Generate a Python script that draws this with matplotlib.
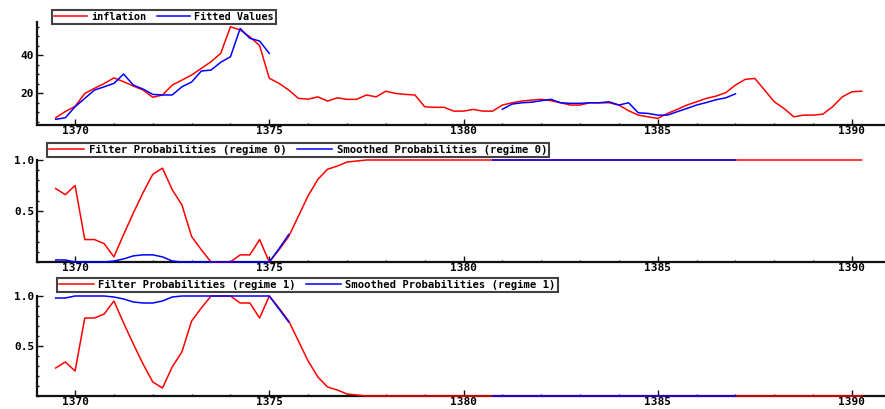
import numpy as np
import matplotlib
matplotlib.use('Agg')
import matplotlib.pyplot as plt
from matplotlib.ticker import MultipleLocator, FixedLocator

nan = np.nan

# quarterly observations, first one at 1369.5
start_year = 1369.5
quarter = 0.25

inflation = [7.0, 10.3, 13.0, 19.8, 22.5, 25.0, 28.0, 26.0, 23.7, 21.6,
             17.8, 19.0, 24.2, 26.8, 29.5, 33.0, 36.5, 40.9, 54.9, 53.2,
             49.6, 45.0, 27.8, 25.1, 21.6, 17.2, 16.8, 18.0, 15.8, 17.5,
             16.7, 16.7, 19.0, 18.0, 21.0, 19.8, 19.3, 19.0, 12.8, 12.5,
             12.5, 10.5, 10.5, 11.4, 10.5, 10.5, 13.7, 14.9, 15.8, 16.3,
             16.7, 16.0, 14.9, 13.7, 13.7, 14.9, 14.9, 14.9, 13.7, 10.7,
             8.4, 7.5, 6.7, 9.3, 11.4, 13.7, 15.4, 17.2, 18.4, 20.2,
             24.2, 27.2, 27.7, 21.6, 15.4, 11.9, 7.5, 8.4, 8.4, 8.9,
             12.8, 18.0, 20.7, 21.0]

fitted = [6.2, 7.0, 12.8, 17.2, 21.6, 23.3, 25.1, 30.0, 24.2, 22.1,
          19.3, 19.0, 19.0, 23.3, 25.8, 31.6, 32.1, 36.2, 39.1, 54.0,
          48.8, 47.4, 40.9, nan, nan, nan, nan, nan, nan, nan,
          nan, nan, nan, nan, nan, nan, nan, nan, nan, nan,
          nan, nan, nan, nan, nan, nan, 11.5, 14.2, 14.9, 15.2,
          16.0, 16.7, 14.9, 14.6, 14.6, 14.9, 14.9, 15.4, 13.7, 14.9,
          9.6, 9.3, 8.4, 8.4, 10.2, 11.9, 13.7, 15.0, 16.5, 17.5,
          19.6, nan, nan, nan, nan, nan, nan, nan, nan, nan,
          nan, nan, nan, nan]

filter_p0 = [0.72, 0.66, 0.75, 0.22, 0.22, 0.18, 0.05, 0.27, 0.48, 0.68,
             0.86, 0.92, 0.71, 0.56, 0.25, 0.12, 0.0, 0.0, 0.0, 0.07,
             0.07, 0.22, 0.0, 0.12, 0.25, 0.45, 0.65, 0.81, 0.91, 0.94,
             0.98, 0.99, 1.0, 1.0, 1.0, 1.0, 1.0, 1.0, 1.0, 1.0,
             1.0, 1.0, 1.0, 1.0, 1.0, 1.0, 1.0, 1.0, 1.0, 1.0,
             1.0, 1.0, 1.0, 1.0, 1.0, 1.0, 1.0, 1.0, 1.0, 1.0,
             1.0, 1.0, 1.0, 1.0, 1.0, 1.0, 1.0, 1.0, 1.0, 1.0,
             1.0, 1.0, 1.0, 1.0, 1.0, 1.0, 1.0, 1.0, 1.0, 1.0,
             1.0, 1.0, 1.0, 1.0]

smooth_p0 = [0.02, 0.02, 0.0, 0.0, 0.0, 0.0, 0.01, 0.03, 0.06, 0.07,
             0.07, 0.05, 0.01, 0.0, 0.0, 0.0, 0.0, 0.0, 0.0, 0.0,
             0.0, 0.0, 0.0, 0.13, 0.27, nan, nan, nan, nan, nan,
             nan, nan, nan, nan, nan, nan, nan, nan, nan, nan,
             nan, nan, nan, nan, nan, 1.0, 1.0, 1.0, 1.0, 1.0,
             1.0, 1.0, 1.0, 1.0, 1.0, 1.0, 1.0, 1.0, 1.0, 1.0,
             1.0, 1.0, 1.0, 1.0, 1.0, 1.0, 1.0, 1.0, 1.0, 1.0,
             1.0, nan, nan, nan, nan, nan, nan, nan, nan, nan,
             nan, nan, nan, nan]

filter_p1 = [0.28, 0.34, 0.25, 0.78, 0.78, 0.82, 0.95, 0.73, 0.52, 0.32,
             0.14, 0.08, 0.29, 0.44, 0.75, 0.88, 1.0, 1.0, 1.0, 0.93,
             0.93, 0.78, 1.0, 0.88, 0.75, 0.55, 0.35, 0.19, 0.09, 0.06,
             0.02, 0.01, 0.0, 0.0, 0.0, 0.0, 0.0, 0.0, 0.0, 0.0,
             0.0, 0.0, 0.0, 0.0, 0.0, 0.0, 0.0, 0.0, 0.0, 0.0,
             0.0, 0.0, 0.0, 0.0, 0.0, 0.0, 0.0, 0.0, 0.0, 0.0,
             0.0, 0.0, 0.0, 0.0, 0.0, 0.0, 0.0, 0.0, 0.0, 0.0,
             0.0, 0.0, 0.0, 0.0, 0.0, 0.0, 0.0, 0.0, 0.0, 0.0,
             0.0, 0.0, 0.0, 0.0]

smooth_p1 = [0.98, 0.98, 1.0, 1.0, 1.0, 1.0, 0.99, 0.97, 0.94, 0.93,
             0.93, 0.95, 0.99, 1.0, 1.0, 1.0, 1.0, 1.0, 1.0, 1.0,
             1.0, 1.0, 1.0, 0.87, 0.74, nan, nan, nan, nan, nan,
             nan, nan, nan, nan, nan, nan, nan, nan, nan, nan,
             nan, nan, nan, nan, nan, 0.0, 0.0, 0.0, 0.0, 0.0,
             0.0, 0.0, 0.0, 0.0, 0.0, 0.0, 0.0, 0.0, 0.0, 0.0,
             0.0, 0.0, 0.0, 0.0, 0.0, 0.0, 0.0, 0.0, 0.0, 0.0,
             0.0, nan, nan, nan, nan, nan, nan, nan, nan, nan,
             nan, nan, nan, nan]

year_ticks = [1370, 1375, 1380, 1385, 1390]
labels1 = ['inflation', 'Fitted Values']
labels2 = ['Filter Probabilities (regime 0)', 'Smoothed Probabilities (regime 0)']
labels3 = ['Filter Probabilities (regime 1)', 'Smoothed Probabilities (regime 1)']

t = start_year + quarter * np.arange(len(inflation))

plt.rcParams['font.family'] = ['DejaVu Sans Mono']
plt.rcParams['font.weight'] = 'bold'

W, H = 885, 409
fig = plt.figure(figsize=(W / 100, H / 100), dpi=100)

def box(left, top, bottom):
    return [left / W, 1 - bottom / H, 1 - left / W, (bottom - top) / H]

ax1 = fig.add_axes(box(37, 22, 125))
ax2 = fig.add_axes(box(37, 160, 262))
ax3 = fig.add_axes(box(37, 296, 396))

RED = '#ff0000'
BLUE = '#0000ff'
LW = 1.1

def style(ax, ylim, yticks, yminor):
    ax.set_xlim(1369.02, 1390.85)
    ax.set_ylim(*ylim)
    for s in ('top', 'right'):
        ax.spines[s].set_visible(False)
    for s in ('left', 'bottom'):
        ax.spines[s].set_linewidth(1.6)
        ax.spines[s].set_color('#111111')
    ax.xaxis.set_major_locator(FixedLocator(year_ticks))
    ax.xaxis.set_minor_locator(MultipleLocator(1))
    ax.set_xticklabels([str(y) for y in year_ticks])
    ax.yaxis.set_major_locator(FixedLocator(yticks))
    ax.yaxis.set_minor_locator(MultipleLocator(yminor))
    ax.tick_params(which='both', direction='in', color='#111111', width=1.0)
    ax.tick_params(which='major', length=4, labelsize=8, pad=2)
    ax.tick_params(which='minor', length=1.6)
    ax.tick_params(axis='x', which='major', pad=1)
    ax.patch.set_visible(False)

def legend(ax, handles, labels, x, y, size):
    leg = ax.legend(handles, labels, loc='upper left',
                    bbox_to_anchor=(x / W, 1 - y / H),
                    bbox_transform=fig.transFigure, ncol=2, frameon=True,
                    fancybox=False, borderpad=0.2, handlelength=3.3,
                    handletextpad=0.4, columnspacing=1.0, borderaxespad=0,
                    prop={'size': size, 'weight': 'bold', 'family': 'DejaVu Sans Mono'})
    leg.get_frame().set_edgecolor('#111111')
    leg.get_frame().set_linewidth(1.5)

# Panel 1
h1, = ax1.plot(t, inflation, color=RED, lw=LW, zorder=3)
h2, = ax1.plot(t, fitted, color=BLUE, lw=LW, zorder=4)
style(ax1, (3.2, 57.4), [20, 40], 5)
legend(ax1, [h1, h2], labels1, 52, 10, 7.3)

# Panel 2
h3, = ax2.plot(t, filter_p0, color=RED, lw=LW, zorder=3, clip_on=False)
h4, = ax2.plot(t, smooth_p0, color=BLUE, lw=LW, zorder=4, clip_on=False)
style(ax2, (0.0, 1.0), [0.5, 1.0], 0.1)
ax2.set_yticklabels(['0.5', '1.0'])
legend(ax2, [h3, h4], labels2, 47, 143, 7.7)

# Panel 3
h5, = ax3.plot(t, filter_p1, color=RED, lw=LW, zorder=3, clip_on=False)
h6, = ax3.plot(t, smooth_p1, color=BLUE, lw=LW, zorder=4, clip_on=False)
style(ax3, (0.0, 1.0), [0.5, 1.0], 0.1)
ax3.set_yticklabels(['0.5', '1.0'])
legend(ax3, [h5, h6], labels3, 57, 278, 7.6)

fig.savefig('out.png', dpi=100)
